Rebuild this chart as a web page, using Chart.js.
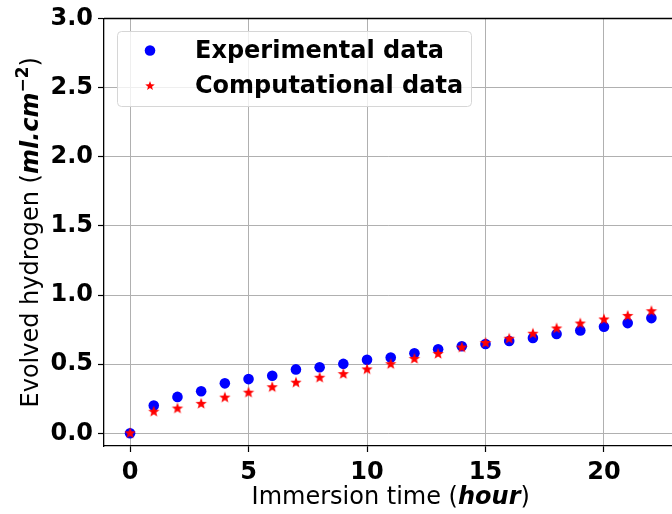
<!DOCTYPE html>
<html>
<head>
<meta charset="utf-8">
<script src="https://cdn.jsdelivr.net/npm/chart.js@4/dist/chart.umd.min.js"></script>
<style>
  html, body { margin: 0; padding: 0; background: #ffffff; overflow: hidden; }
  #wrap { width: 672px; height: 514px; position: relative; overflow: hidden; }
</style>
</head>
<body>
<div id="wrap"><canvas id="c" width="678" height="514"></canvas></div>
<script>
// ---- data ----
const hours = [0,1,2,3,4,5,6,7,8,9,10,11,12,13,14,15,16,17,18,19,20,21,22];
const experimental = [0.000,0.201,0.263,0.304,0.361,0.392,0.416,0.462,0.478,0.502,0.531,0.548,0.579,0.608,0.629,0.646,0.667,0.689,0.718,0.744,0.770,0.797,0.833];
const computational = [0.000,0.156,0.179,0.213,0.258,0.294,0.333,0.366,0.402,0.428,0.462,0.500,0.538,0.574,0.620,0.653,0.684,0.720,0.758,0.794,0.823,0.849,0.883];
const seriesLabels = ['Experimental data', 'Computational data'];
const xTickValues = [0,5,10,15,20];
const yTickValues = [0.0,0.5,1.0,1.5,2.0,2.5,3.0];

const FONT = "'DejaVu Sans', 'Liberation Sans', sans-serif";

// star marker image
function makeStar(R, color) {
  const s = Math.ceil(R * 2 + 4);
  const cv = document.createElement('canvas');
  cv.width = s; cv.height = s;
  const g = cv.getContext('2d');
  const cx = s / 2, cy = s / 2, r = R * 0.42;
  g.beginPath();
  for (let i = 0; i < 10; i++) {
    const rad = (i % 2 === 0) ? R : r;
    const a = -Math.PI / 2 + i * Math.PI / 5;
    const px = cx + rad * Math.cos(a), py = cy + rad * Math.sin(a);
    if (i === 0) g.moveTo(px, py); else g.lineTo(px, py);
  }
  g.closePath();
  g.fillStyle = color;
  g.fill();
  return cv;
}
const starImg = makeStar(6, '#ff0000');
const starLegend = makeStar(5, '#ff0000');

function toXY(xs, ys) { return xs.map((x, i) => ({ x: x, y: ys[i] })); }

const decor = {
  id: 'decor',
  afterDraw(chart) {
    const ctx = chart.ctx, a = chart.chartArea;
    const xs = chart.scales.x;
    ctx.save();
    // top spine
    ctx.strokeStyle = '#000'; ctx.lineWidth = 1.3;
    ctx.beginPath(); ctx.moveTo(a.left, a.top); ctx.lineTo(a.right, a.top); ctx.stroke();

    // legend
    const bx = 117.5, by = 31.5, bw = 354, bh = 75;
    ctx.beginPath();
    ctx.roundRect(bx, by, bw, bh, 4);
    ctx.fillStyle = 'rgba(255,255,255,0.8)'; ctx.fill();
    ctx.strokeStyle = '#d6d6d6'; ctx.lineWidth = 1; ctx.stroke();
    ctx.font = 'bold 24px ' + FONT;
    ctx.fillStyle = '#000'; ctx.textBaseline = 'middle'; ctx.textAlign = 'left';
    const rows = [50.5, 86];
    chart.data.datasets.forEach((ds, i) => {
      const y = rows[i];
      if (ds.pointStyle === 'circle') {
        ctx.beginPath(); ctx.arc(150, y, 5.3, 0, Math.PI * 2);
        ctx.fillStyle = ds.backgroundColor; ctx.fill();
      } else {
        ctx.drawImage(starLegend, 150 - starLegend.width / 2, y - starLegend.height / 2);
      }
      ctx.fillStyle = '#000';
      ctx.fillText(ds.label, 195, y + 1);
    });

    // x-axis title (mixed style)
    const parts = [
      { t: 'Immersion time (', f: '24px ' + FONT },
      { t: 'hour', f: 'italic bold 24px ' + FONT },
      { t: ')', f: '24px ' + FONT }
    ];
    let tw = 0;
    parts.forEach(p => { ctx.font = p.f; p.w = ctx.measureText(p.t).width; tw += p.w; });
    let x0 = xs.getPixelForValue(11) - tw / 2;
    ctx.textBaseline = 'alphabetic'; ctx.fillStyle = '#000';
    parts.forEach(p => { ctx.font = p.f; ctx.fillText(p.t, x0, 504); x0 += p.w; });

    // y-axis title (rotated, mixed style, superscript)
    const yparts = [
      { t: 'Evolved hydrogen (', f: '24px ' + FONT, dy: 0 },
      { t: 'ml.cm', f: 'italic bold 24px ' + FONT, dy: 0 },
      { t: '\u22122', f: 'bold 17px ' + FONT, dy: -10 },
      { t: ')', f: '24px ' + FONT, dy: 0 }
    ];
    let yw = 0;
    yparts.forEach(p => { ctx.font = p.f; p.w = ctx.measureText(p.t).width; yw += p.w; });
    ctx.translate(38, (a.top + a.bottom) / 2);
    ctx.rotate(-Math.PI / 2);
    let s0 = -yw / 2;
    yparts.forEach(p => { ctx.font = p.f; ctx.fillText(p.t, s0, p.dy); s0 += p.w; });
    ctx.restore();
  }
};

new Chart(document.getElementById('c'), {
  type: 'scatter',
  data: {
    datasets: [
      {
        label: seriesLabels[0],
        data: toXY(hours, experimental),
        pointStyle: 'circle',
        pointRadius: 5.3,
        pointHoverRadius: 5.3,
        backgroundColor: '#0000ff',
        borderColor: '#0000ff',
        borderWidth: 0,
        order: 2
      },
      {
        label: seriesLabels[1],
        data: toXY(hours, computational),
        pointStyle: starImg,
        pointRadius: 6,
        backgroundColor: '#ff0000',
        borderColor: '#ff0000',
        borderWidth: 0,
        order: 1
      }
    ]
  },
  options: {
    responsive: false,
    animation: false,
    events: [],
    layout: { padding: { top: 18.5, right: 0, left: 0, bottom: 0 } },
    plugins: { legend: { display: false }, tooltip: { enabled: false } },
    scales: {
      x: {
        type: 'linear',
        min: -1.1, max: 22.87,
        afterBuildTicks: s => { s.ticks = xTickValues.map(v => ({ value: v })); },
        afterFit: s => { s.height = 68; s.paddingLeft = 0; s.paddingRight = 0; },
        ticks: {
          font: { family: FONT, size: 24, weight: 'bold' },
          color: '#000',
          padding: 6,
          maxRotation: 0,
          callback: v => String(v)
        },
        grid: { color: '#b0b0b0', lineWidth: 1, tickColor: '#000', tickLength: 6, tickWidth: 1.2 },
        border: { color: '#000', width: 1.3 }
      },
      y: {
        type: 'linear',
        min: -0.092, max: 3.0,
        afterBuildTicks: s => { s.ticks = yTickValues.map(v => ({ value: v })); },
        afterFit: s => { s.width = 104; s.paddingTop = 0; s.paddingBottom = 0; },
        ticks: {
          font: { family: FONT, size: 24, weight: 'bold' },
          color: '#000',
          padding: 5,
          callback: v => Number(v).toFixed(1)
        },
        grid: { color: '#b0b0b0', lineWidth: 1, tickColor: '#000', tickLength: 6, tickWidth: 1.2 },
        border: { color: '#000', width: 1.3 }
      }
    }
  },
  plugins: [decor]
});
</script>
</body>
</html>
